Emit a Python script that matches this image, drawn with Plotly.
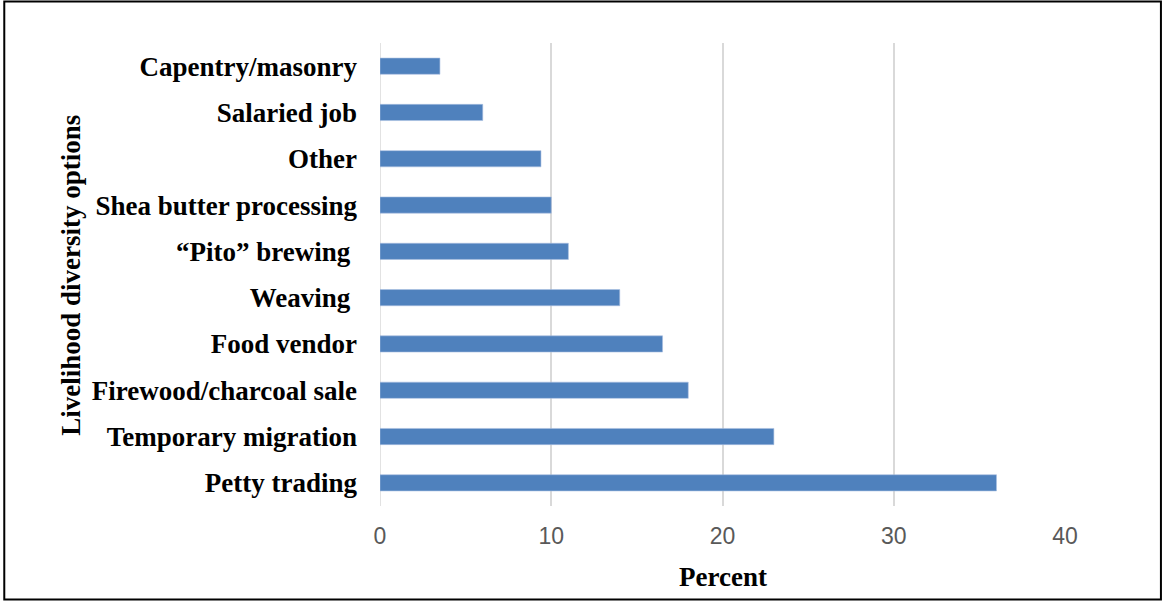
import plotly.graph_objects as go

# Livelihood diversification options and share of respondents (%)
categories = [
    "Petty trading",
    "Temporary migration",
    "Firewood/charcoal sale",
    "Food vendor",
    "Weaving ",
    "\u201cPito\u201d brewing ",
    "Shea butter processing",
    "Other",
    "Salaried job",
    "Capentry/masonry",
]
percent = [36.0, 23.0, 18.0, 16.5, 14.0, 11.0, 10.0, 9.4, 6.0, 3.5]

x_ticks = [0, 10, 20, 30, 40]

W, H = 1163, 601
L, R, T, B = 379.5, 98, 43, 95
plot_w = W - L - R
plot_h = H - T - B


def px_to_paper_x(px):
    return (px - L) / plot_w


def px_to_paper_y(py):
    return (H - B - py) / plot_h


fig = go.Figure(
    go.Bar(
        y=categories,
        x=percent,
        orientation="h",
        width=0.35,
        marker=dict(color="#4f81bd", line=dict(color="#a9c0e0", width=0.6)),
    )
)

fig.update_layout(
    width=W,
    height=H,
    margin=dict(l=L, r=R, t=T, b=B),
    paper_bgcolor="white",
    plot_bgcolor="white",
    showlegend=False,
    xaxis=dict(
        range=[0, 40],
        tickvals=x_ticks,
        showgrid=True,
        gridcolor="#d9d9d9",
        gridwidth=1.5,
        zeroline=False,
        showline=False,
        ticks="",
        tickfont=dict(family="Liberation Sans, Arial", size=23, color="#595959"),
        ticklabelstandoff=14,
    ),
    yaxis=dict(
        showgrid=False,
        zeroline=False,
        showline=False,
        ticks="",
        tickfont=dict(family="Liberation Serif, Times New Roman", size=27, color="black", weight="bold"),
        ticklabelstandoff=22,
        automargin=False,
    ),
    shapes=[
        dict(
            type="rect",
            xref="paper",
            yref="paper",
            x0=px_to_paper_x(3.5),
            x1=px_to_paper_x(1161),
            y0=px_to_paper_y(599.5),
            y1=px_to_paper_y(1.5),
            line=dict(color="black", width=2),
            fillcolor="rgba(0,0,0,0)",
            layer="above",
        ),
        dict(
            type="line",
            xref="x",
            yref="paper",
            x0=0,
            x1=0,
            y0=0,
            y1=1,
            line=dict(color="#d9d9d9", width=1.5),
            layer="below",
        ),
    ],
    annotations=[
        dict(
            text="<b>Percent</b>",
            xref="paper",
            yref="paper",
            x=0.5,
            y=px_to_paper_y(577),
            xanchor="center",
            yanchor="middle",
            showarrow=False,
            font=dict(family="Liberation Serif, Times New Roman", size=27, color="black"),
        ),
        dict(
            text="<b>Livelihood diversity options</b>",
            xref="paper",
            yref="paper",
            x=px_to_paper_x(70),
            y=px_to_paper_y(275),
            xanchor="center",
            yanchor="middle",
            textangle=-90,
            showarrow=False,
            font=dict(family="Liberation Serif, Times New Roman", size=27, color="black"),
        ),
    ],
)

fig.write_html("out.html")
